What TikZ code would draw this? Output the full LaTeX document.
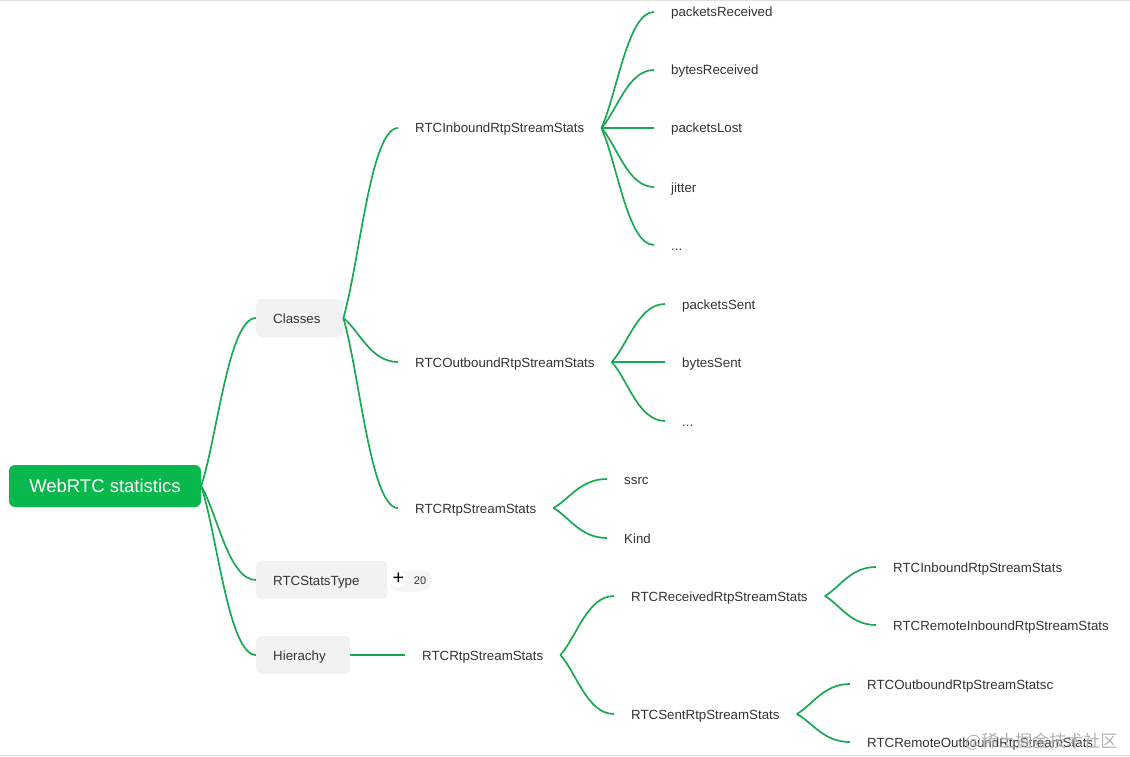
\documentclass[tikz,border=0pt]{standalone}
\usepackage{fontspec}
\setmainfont{Liberation Sans}
\newfontfamily\cjkfont{Noto Sans CJK SC}
\usepackage{tikz}
\usetikzlibrary{calc}

\definecolor{rootgreen}{RGB}{8,184,76}
\definecolor{linkgreen}{RGB}{26,168,82}

% curved mind-map link from #1 to #2
\newcommand{\curvelink}[2]{\draw[link] (#1) .. controls ($(#1)!0.3!(#2)$) and ($(#2)!0.5!(#1|-#2)$) .. (#2);}

\begin{document}
\begin{tikzpicture}[x=1pt, y=-1pt,
  every node/.style={font=\fontsize{13.3}{16}\selectfont, text=black!80},
  topic/.style={fill=black!5, rounded corners=5pt, minimum height=38pt, inner xsep=17pt, text height=12pt, text depth=2pt, align=left, anchor=west},
  leaf/.style={inner xsep=17pt, inner ysep=2pt, text height=12pt, text depth=2pt, anchor=west},
  link/.style={draw=linkgreen, line width=1.7pt}]
  \useasboundingbox (0,0) rectangle (1130,757);
  \draw[black!12] (0,0.5) -- (1130,0.5);
  \draw[black!12] (0,755.5) -- (1130,755.5);

  % root and first level
  \node[fill=rootgreen, rounded corners=6pt, minimum width=192pt, minimum height=42pt, text=white, font=\fontsize{18.5}{22}\selectfont] (root) at (105,486) {WebRTC statistics};
  \node[topic, text width=53pt] (cls) at (256,318) {Classes};
  \node[topic, text width=97pt] (typ) at (256,580) {RTCStatsType};
  \node[topic, text width=60pt] (hier) at (256,655) {Hierachy};
  \curvelink{root.east}{cls.west}
  \curvelink{root.east}{typ.west}
  \curvelink{root.east}{hier.west}

  % collapsed badge
  \node[fill=black!4, rounded corners=10pt, minimum width=42pt, minimum height=21pt, inner sep=0pt] (pill) at (411,581) {};
  \node[circle, fill=white, minimum size=17pt, inner sep=0pt, text=black, font=\fontsize{20}{20}\selectfont] (plus) at (398.5,579) {+};
  \node[font=\fontsize{11}{12}\selectfont, inner sep=0pt] (count) at (420,580.5) {20};

  % classes
  \node[leaf] (inb) at (398,128) {RTCInboundRtpStreamStats};
  \node[leaf] (outb) at (398,362) {RTCOutboundRtpStreamStats};
  \node[leaf] (rtp) at (398,508) {RTCRtpStreamStats};
  \curvelink{cls.east}{inb.west}
  \curvelink{cls.east}{outb.west}
  \curvelink{cls.east}{rtp.west}

  \node[leaf] (precv) at (654,12) {packetsReceived};
  \node[leaf] (brecv) at (654,70) {bytesReceived};
  \node[leaf] (plost) at (654,128) {packetsLost};
  \node[leaf] (jit) at (654,187) {jitter};
  \node[leaf] (inmore) at (654,245) {...};
  \foreach \n in {precv,brecv,plost,jit,inmore}{
    \curvelink{inb.east}{\n.west}
  }

  \node[leaf] (psent) at (665,304) {packetsSent};
  \node[leaf] (bsent) at (665,362) {bytesSent};
  \node[leaf] (outmore) at (665,421) {...};
  \foreach \n in {psent,bsent,outmore}{
    \curvelink{outb.east}{\n.west}
  }

  \node[leaf] (ssrc) at (607,479) {ssrc};
  \node[leaf] (kind) at (607,538) {Kind};
  \curvelink{rtp.east}{ssrc.west}
  \curvelink{rtp.east}{kind.west}

  % hierarchy
  \node[leaf] (hrtp) at (405,655) {RTCRtpStreamStats};
  \draw[link] (hier.east) -- (hrtp.west);
  \node[leaf] (recv) at (614,596) {RTCReceivedRtpStreamStats};
  \node[leaf] (sent) at (614,714) {RTCSentRtpStreamStats};
  \curvelink{hrtp.east}{recv.west}
  \curvelink{hrtp.east}{sent.west}

  \node[leaf] (hinb) at (876,567) {RTCInboundRtpStreamStats};
  \node[leaf] (hrinb) at (876,625) {RTCRemoteInboundRtpStreamStats};
  \curvelink{recv.east}{hinb.west}
  \curvelink{recv.east}{hrinb.west}

  \node[leaf] (houtb) at (850,684) {RTCOutboundRtpStreamStatsc};
  \node[leaf] (hroutb) at (850,742) {RTCRemoteOutboundRtpStreamStats};
  \curvelink{sent.east}{houtb.west}
  \curvelink{sent.east}{hroutb.west}

  % watermark
  \node[anchor=west, inner sep=0pt, text=black!30, font=\cjkfont\fontsize{17}{17}\selectfont] (mark) at (965,742) {@稀土掘金技术社区};
\end{tikzpicture}
\end{document}
